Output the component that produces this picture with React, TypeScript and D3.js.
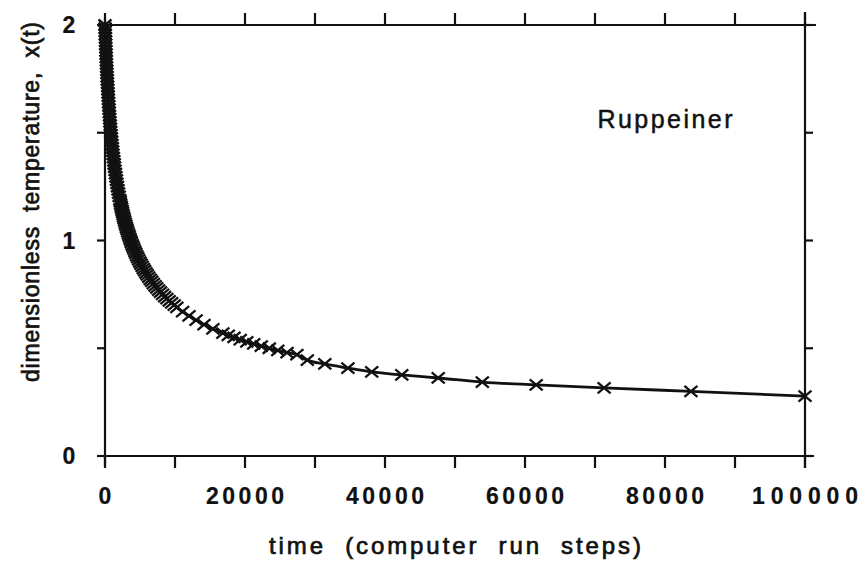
import React, { useEffect, useRef } from 'react'
import * as d3 from 'd3'

// time (computer run steps) for each marker
const times = [
  0, 15, 31, 47, 64, 81, 99, 117, 135, 154, 174, 194, 215, 236, 258, 281, 304, 328, 353, 378,
  404, 431, 459, 488, 517, 548, 579, 612, 645, 680, 716, 753, 791, 831, 872, 915, 959, 1005,
  1051, 1100, 1151, 1205, 1259, 1316, 1374, 1436, 1500, 1566, 1634, 1706, 1781, 1860, 1940, 2025,
  2113, 2175, 2237, 2302, 2369, 2438, 2509, 2582, 2657, 2735, 2815, 2898, 2983, 3072, 3163, 3257,
  3353, 3455, 3559, 3667, 3778, 3893, 4013, 4136, 4265, 4397, 4535, 4678, 4827, 4982, 5142, 5308,
  5482, 5661, 5849, 6044, 6247, 6460, 6679, 6910, 7151, 7402, 7666, 7939, 8228, 8527, 8842, 9172,
  9520, 9884, 10266, 11087, 12001, 13014, 14145, 15408, 16833, 17609, 18433, 19317, 20258, 21250,
  22325, 23467, 24683, 26000, 27417, 28900, 31400, 34700, 38100, 42400, 47600, 53900, 61600, 71300,
  83700, 100000,
]
// dimensionless temperature x(t) at each marker
const temps = [
  2.0, 1.985, 1.97, 1.955, 1.94, 1.925, 1.91, 1.895, 1.88, 1.865, 1.85, 1.835, 1.82, 1.805, 1.79, 1.775, 1.76, 1.745, 1.73, 1.715,
  1.7, 1.685, 1.67, 1.655, 1.64, 1.625, 1.61, 1.595, 1.58, 1.565, 1.55, 1.535, 1.52, 1.505, 1.49, 1.475, 1.46, 1.445,
  1.43, 1.415, 1.4, 1.385, 1.37, 1.355, 1.34, 1.325, 1.31, 1.295, 1.28, 1.265, 1.25, 1.235, 1.22, 1.205,
  1.19, 1.18, 1.17, 1.16, 1.15, 1.14, 1.13, 1.12, 1.11, 1.1, 1.09, 1.08, 1.07, 1.06, 1.05, 1.04,
  1.03, 1.02, 1.01, 1.0, 0.99, 0.98, 0.97, 0.96, 0.95, 0.94, 0.93, 0.92, 0.91, 0.9, 0.89, 0.88,
  0.87, 0.86, 0.85, 0.84, 0.83, 0.82, 0.81, 0.8, 0.79, 0.78, 0.77, 0.76, 0.75, 0.74, 0.73, 0.72,
  0.71, 0.7, 0.69, 0.67, 0.65, 0.63, 0.61, 0.59, 0.57, 0.56, 0.55, 0.54, 0.53, 0.52,
  0.51, 0.5, 0.49, 0.48, 0.47, 0.445, 0.427, 0.408, 0.39, 0.376, 0.362, 0.343, 0.33, 0.316,
  0.3, 0.278,
]

const xTickLabels = [0, 20000, 40000, 60000, 80000, 100000]
const yTickLabels = [0, 1, 2]
const xMinorTicks = d3.range(0, 100001, 10000)
const yMinorTicks = [0, 0.5, 1, 1.5, 2]

const App = () => {
  const ref = useRef(null)

  useEffect(() => {
    const svg = d3.select(ref.current)
    svg.selectAll('*').remove()

    const x = d3.scaleLinear().domain([0, 100000]).range([105, 805])
    const y = d3.scaleLinear().domain([0, 2]).range([456, 25])
    const font = 'Liberation Sans, Arial, Helvetica, sans-serif'
    const ink = '#111'

    const frame = svg.append('g').attr('stroke', ink).attr('stroke-width', 2.2).attr('fill', 'none')
    frame.append('line').attr('x1', 98).attr('x2', 814).attr('y1', y(0)).attr('y2', y(0)) // bottom
    frame.append('line').attr('x1', 100).attr('x2', 816).attr('y1', y(2)).attr('y2', y(2)) // top
    frame.append('line').attr('x1', x(0)).attr('x2', x(0)).attr('y1', 18).attr('y2', 466) // left
    frame.append('line').attr('x1', x(100000)).attr('x2', x(100000)).attr('y1', 12).attr('y2', 468) // right

    xMinorTicks.forEach(t => {
      frame.append('line').attr('x1', x(t)).attr('x2', x(t)).attr('y1', y(0)).attr('y2', y(0) + 12)
      frame.append('line').attr('x1', x(t)).attr('x2', x(t)).attr('y1', y(2)).attr('y2', y(2) - 12)
    })
    yMinorTicks.forEach(v => {
      frame.append('line').attr('x1', x(0)).attr('x2', x(0) - 8).attr('y1', y(v)).attr('y2', y(v))
      frame.append('line').attr('x1', x(100000)).attr('x2', x(100000) + 8).attr('y1', y(v)).attr('y2', y(v))
    })

    const pts = times.map((t, i) => [t, temps[i]])

    svg // curve
      .append('path')
      .attr('d', d3.line().x(d => x(d[0])).y(d => y(d[1])).curve(d3.curveMonotoneX)(pts))
      .attr('fill', 'none')
      .attr('stroke', ink)
      .attr('stroke-width', 2.8)

    svg // x markers
      .append('g')
      .selectAll('path')
      .data(pts)
      .enter()
      .append('path')
      .attr('transform', d => `translate(${x(d[0])},${y(d[1])})`)
      .attr('d', 'M-6.5,-5.5L6.5,5.5M-6.5,5.5L6.5,-5.5')
      .attr('stroke', ink)
      .attr('stroke-width', 2.3)
      .attr('fill', 'none')

    const label = (txt, px, py, len, size = 22, weight = 'normal', sw = 0.7) => {
      const t = svg
        .append('text')
        .text(txt)
        .attr('x', px)
        .attr('y', py)
        .attr('font-family', font)
        .attr('font-size', size)
        .attr('font-weight', weight)
        .attr('fill', ink)
        .attr('stroke', ink)
        .attr('stroke-width', sw)
        .attr('text-anchor', 'middle')
        .style('white-space', 'pre')
      if (len) t.attr('textLength', len).attr('lengthAdjust', 'spacing')
      return t
    }

    xTickLabels.forEach(t => {
      const s = String(t)
      label(s, x(t), 504, s.length === 1 ? null : s.length === 5 ? 78 : 106, 23, 'bold', 0.2)
    })
    yTickLabels.forEach(v => {
      label(String(v), 69, y(v) + 8, null, 23, 'bold', 0.2)
    })

    label('time  (computer  run  steps)', 455, 554, 372, 24) // xlab
    label('dimensionless  temperature,  x(t)', 0, 0, 360, 23) // ylab
      .attr('transform', 'translate(39,202) rotate(-90)')
    label('Ruppeiner', 665, 128, 135, 25, 'normal', 0.5) // legend text
  }, [])

  return (
    <svg
      ref={ref}
      width={862}
      height={561}
      style={{ position: 'absolute', left: 0, top: 0, background: '#fff' }}
    />
  )
}

export default App
